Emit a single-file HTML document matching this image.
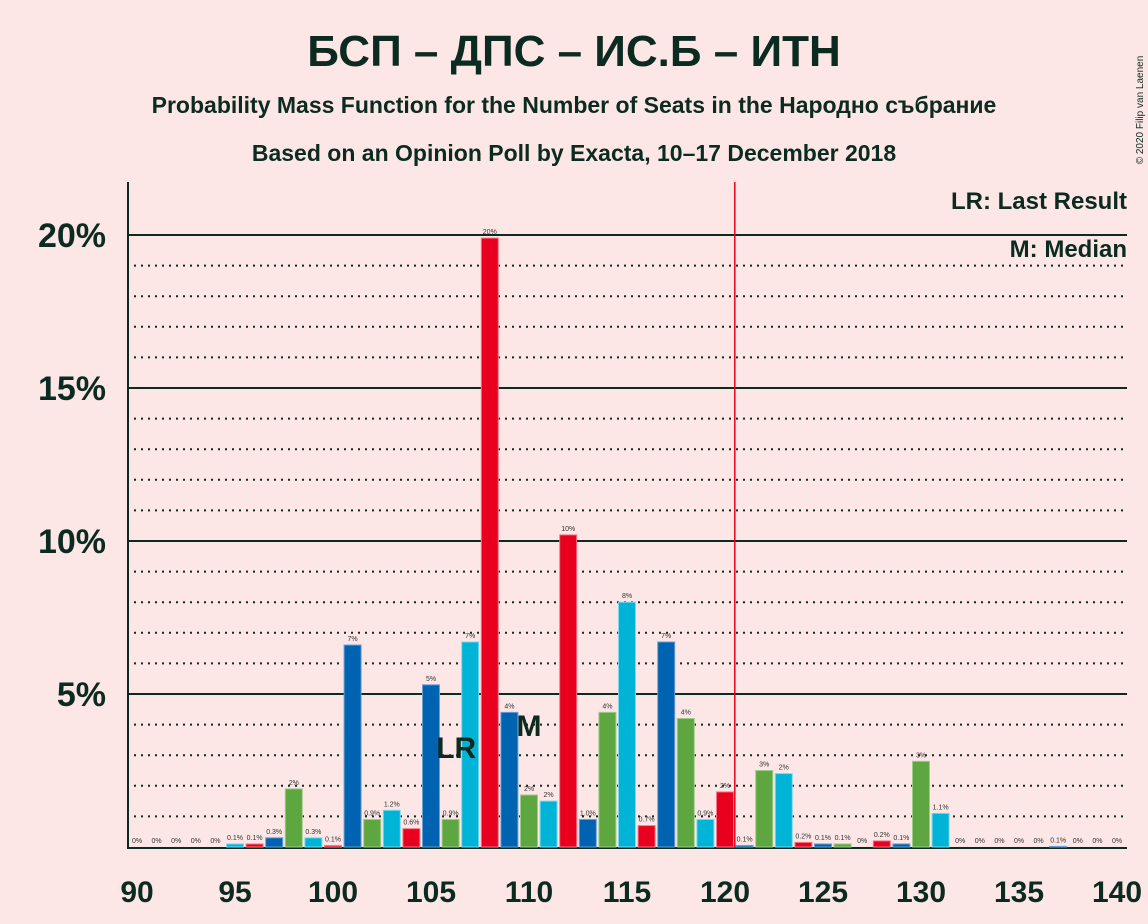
<!DOCTYPE html>
<html><head><meta charset="utf-8"><style>
body{margin:0;background:#fde6e6;font-family:"Liberation Sans","DejaVu Sans",sans-serif;}
svg{display:block}
</style></head><body>
<svg id="c" width="1148" height="924" xmlns="http://www.w3.org/2000/svg">
<rect width="1148" height="924" fill="#fde6e6"/>
<text x="574" y="66" text-anchor="middle" font-size="44" font-weight="bold" fill="#0b2b20">БСП – ДПС – ИС.Б – ИТН</text>
<text x="574" y="113" text-anchor="middle" font-size="23" font-weight="bold" fill="#0b2b20">Probability Mass Function for the Number of Seats in the Народно събрание</text>
<text x="574" y="161" text-anchor="middle" font-size="23" font-weight="bold" fill="#0b2b20">Based on an Opinion Poll by Exacta, 10–17 December 2018</text>
<text x="1143" y="110" font-size="10" fill="#0b2b20" transform="rotate(-90 1143 110)" text-anchor="middle">© 2020 Filip van Laenen</text>
<g id="grid"></g><g id="bars"></g><g id="labels"></g>
<rect x="940" y="184" width="190" height="34" fill="#fde6e6"/>
<rect x="985" y="239" width="145" height="24" fill="#fde6e6"/>
<text x="1127" y="209" text-anchor="end" font-size="24" font-weight="bold" fill="#0b2b20">LR: Last Result</text>
<text x="1127" y="257" text-anchor="end" font-size="24" font-weight="bold" fill="#0b2b20">M: Median</text>
</svg>
<script>
const seats=[];for(let s=90;s<=140;s++)seats.push(s);
const probs=[0,0,0,0,0,0.1,0.1,0.3,1.9,0.3,0.05,6.6,0.9,1.2,0.6,5.3,0.9,6.7,19.9,4.4,1.7,1.5,10.2,0.9,4.4,8.0,0.7,6.7,4.2,0.9,1.8,0.05,2.5,2.4,0.15,0.1,0.1,0,0.2,0.1,2.8,1.1,0,0,0,0,0,0.02,0,0,0];
const labels=["0%","0%","0%","0%","0%","0.1%","0.1%","0.3%","2%","0.3%","0.1%","7%","0.9%","1.2%","0.6%","5%","0.9%","7%","20%","4%","2%","2%","10%","1.0%","4%","8%","0.7%","7%","4%","0.9%","2%","0.1%","3%","2%","0.2%","0.1%","0.1%","0%","0.2%","0.1%","3%","1.1%","0%","0%","0%","0%","0%","0.1%","0%","0%","0%"];
const yTicks=[5,10,15,20];
const xTicks=[90,95,100,105,110,115,120,125,130,135,140];
const lastResult=107, median=110, majority=120.5;
const colors=["#e8001e","#0063b1","#5ea640","#00b4d8"];
const strokes=["#f57a8a","#6a9fd4","#9fcc8a","#7fd9ee"];
const X=s=>137+(s-90)*19.6, Y=p=>847-p*30.6;
const NS="http://www.w3.org/2000/svg";
function mk(t,a,parent){const e=document.createElementNS(NS,t);for(const k in a)e.setAttribute(k,a[k]);parent.appendChild(e);return e;}
const g=document.getElementById("grid"),b=document.getElementById("bars"),l=document.getElementById("labels");
for(let p=1;p<=20;p++){const solid=p%5===0;
 const e=mk("line",{x1:127,x2:1127,y1:Y(p),y2:Y(p),stroke:"#0b2b20","stroke-width":2,"stroke-dasharray":solid?"":"2,5"},g);
 
 }
yTicks.forEach(p=>{const t=mk("text",{x:106,y:Y(p)+12,"text-anchor":"end","font-size":34,"font-weight":"bold",fill:"#0b2b20"},g);t.textContent=p+"%";
 
 });
xTicks.forEach(s=>{const t=mk("text",{x:X(s),y:902,"text-anchor":"middle","font-size":30,"font-weight":"bold",fill:"#0b2b20"},g);t.textContent=s;
 
 });
seats.forEach((s,i)=>{const p=probs[i];
 if(p>0){const r=mk("rect",{x:X(s)-8.5,y:Y(p),width:17,height:847-Y(p),fill:colors[s%4],stroke:strokes[s%4],"stroke-width":1},b);
  
  }
 const t=mk("text",{x:X(s),y:Y(p)-4,"text-anchor":"middle","font-size":7,fill:"#333"},l);t.textContent=labels[i];
 
 });
const ax=mk("line",{x1:128,x2:128,y1:182,y2:848,stroke:"#0b2b20","stroke-width":2},g);


const bx=mk("line",{x1:127,x2:1127,y1:848,y2:848,stroke:"#0b2b20","stroke-width":2},g);


const mj=mk("line",{x1:X(majority),x2:X(majority),y1:182,y2:848,stroke:"#e8001e","stroke-width":1.5},b);


const lr=mk("text",{x:X(lastResult)-14,y:758,"text-anchor":"middle","font-size":30,"font-weight":"bold",fill:"#0b2b20"},l);lr.textContent="LR";


const md=mk("text",{x:X(median),y:736,"text-anchor":"middle","font-size":30,"font-weight":"bold",fill:"#0b2b20"},l);md.textContent="M";


</script>
</body></html>
